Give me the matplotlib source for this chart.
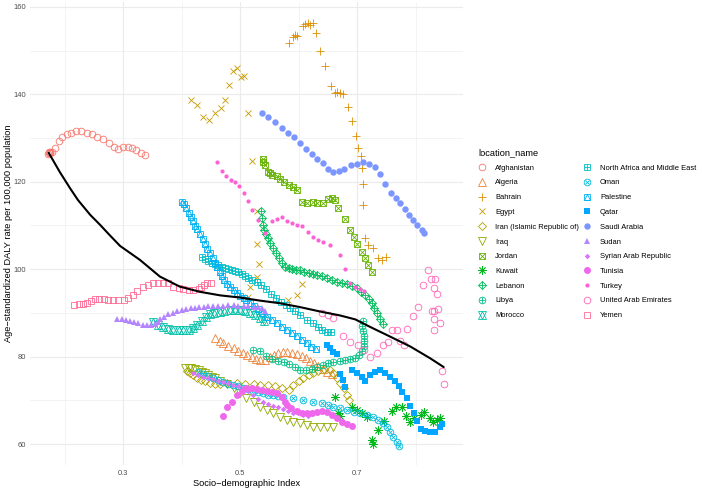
import numpy as np
import matplotlib
matplotlib.use("Agg")
import matplotlib.pyplot as plt
from matplotlib.lines import Line2D
from matplotlib.legend_handler import HandlerTuple

plt.rcParams['font.family'] = ['Liberation Sans', 'DejaVu Sans']

# ---------------- data (SDI, age-standardized DALY rate) ----------------
afg_sdi = [0.172, 0.173, 0.174, 0.175, 0.176, 0.178, 0.184, 0.191, 0.196, 0.204, 0.211, 0.220, 0.228, 0.238, 0.247, 0.256, 0.266, 0.276, 0.284, 0.292, 0.300, 0.309, 0.316, 0.323, 0.330, 0.338]
afg_daly = [126.4, 126.7, 126.5, 126.8, 126.6, 126.7, 127.7, 129.2, 130.3, 130.9, 131.2, 131.5, 131.6, 131.2, 130.9, 130.3, 129.7, 128.8, 128.0, 127.5, 127.9, 127.9, 127.6, 127.3, 126.5, 126.1]

alg_sdi = [0.457, 0.465, 0.471, 0.480, 0.489, 0.497, 0.505, 0.512, 0.520, 0.527, 0.534, 0.543, 0.551, 0.558, 0.565, 0.573, 0.581, 0.588, 0.597, 0.605, 0.613, 0.620, 0.626, 0.634, 0.641, 0.648, 0.657]
alg_daly = [84.2, 83.6, 83.0, 82.4, 81.9, 81.3, 80.9, 80.4, 80.0, 79.5, 79.2, 79.2, 79.8, 80.4, 80.8, 81.0, 81.0, 80.9, 80.6, 80.1, 79.6, 79.1, 78.5, 77.8, 77.1, 76.5, 76.0]

bhr_sdi = [0.584, 0.590, 0.594, 0.598, 0.607, 0.611, 0.616, 0.620, 0.624, 0.630, 0.637, 0.645, 0.655, 0.662, 0.666, 0.671, 0.676, 0.685, 0.691, 0.698, 0.702, 0.706, 0.709, 0.710, 0.710, 0.714, 0.719, 0.727, 0.736, 0.743, 0.750]
bhr_daly = [151.8, 153.1, 153.6, 153.4, 155.5, 156.1, 156.3, 155.9, 156.3, 154.0, 149.8, 146.5, 141.9, 140.3, 140.6, 140.4, 140.1, 137.0, 133.8, 130.5, 127.7, 125.9, 123.2, 119.5, 114.7, 107.1, 105.5, 104.9, 102.6, 102.1, 102.8]

egy_sdi = [0.416, 0.426, 0.437, 0.447, 0.457, 0.468, 0.474, 0.481, 0.488, 0.495, 0.502, 0.507, 0.514, 0.521, 0.529, 0.529, 0.532, 0.529, 0.517, 0.514, 0.582, 0.597, 0.606]
egy_daly = [138.7, 137.6, 134.8, 134.1, 135.7, 136.9, 138.7, 142.2, 145.4, 146.0, 144.0, 144.2, 135.7, 124.8, 113.3, 105.8, 101.2, 98.2, 95.9, 93.6, 93.0, 94.1, 96.6]

irn_sdi = [0.409, 0.415, 0.420, 0.426, 0.433, 0.440, 0.449, 0.457, 0.466, 0.477, 0.494, 0.509, 0.523, 0.534, 0.548, 0.560, 0.571, 0.583, 0.591, 0.600, 0.608, 0.617, 0.625, 0.634, 0.644, 0.653, 0.659, 0.665, 0.671, 0.678, 0.682, 0.687]
irn_daly = [76.7, 76.2, 75.7, 75.1, 74.6, 74.3, 73.9, 73.8, 73.8, 73.9, 73.9, 73.7, 73.7, 73.5, 73.4, 73.3, 72.9, 72.4, 73.5, 74.3, 75.0, 75.8, 76.3, 76.8, 77.1, 76.9, 76.2, 75.0, 73.9, 72.8, 71.2, 70.1]

irq_sdi = [0.406, 0.412, 0.417, 0.423, 0.429, 0.435, 0.440, 0.446, 0.452, 0.457, 0.466, 0.477, 0.489, 0.500, 0.511, 0.523, 0.534, 0.546, 0.557, 0.568, 0.580, 0.591, 0.603, 0.614, 0.625, 0.637, 0.648, 0.659]
irq_daly = [77.5, 77.3, 77.3, 77.2, 76.9, 76.5, 76.2, 75.8, 75.4, 75.0, 74.4, 73.7, 72.8, 71.7, 70.5, 69.5, 68.5, 67.8, 67.0, 66.2, 65.6, 65.1, 64.7, 64.3, 64.0, 63.9, 63.9, 64.0]

jor_sdi = [0.539, 0.540, 0.543, 0.548, 0.551, 0.554, 0.563, 0.568, 0.575, 0.583, 0.590, 0.597, 0.605, 0.615, 0.624, 0.632, 0.641, 0.651, 0.657, 0.662, 0.668, 0.679, 0.688, 0.695, 0.700, 0.708, 0.714, 0.719, 0.725]
jor_daly = [125.1, 124.5, 123.8, 122.3, 122.0, 121.6, 121.2, 120.6, 119.9, 119.3, 118.7, 118.1, 115.4, 115.1, 115.4, 115.1, 115.2, 116.0, 116.2, 115.7, 113.9, 111.4, 109.0, 107.4, 105.8, 104.0, 102.5, 101.0, 99.4]

kwt_sdi = [0.662, 0.668, 0.671, 0.691, 0.700, 0.709, 0.717, 0.725, 0.728, 0.736, 0.746, 0.760, 0.767, 0.776, 0.784, 0.791, 0.797, 0.809, 0.814, 0.824, 0.830, 0.836, 0.842]
kwt_daly = [70.7, 67.0, 66.4, 68.5, 67.8, 67.1, 66.2, 60.9, 60.0, 63.2, 65.3, 67.6, 68.5, 68.5, 66.4, 65.1, 66.0, 66.6, 67.4, 65.9, 65.1, 65.5, 65.9]

lbn_sdi = [0.535, 0.537, 0.539, 0.541, 0.544, 0.548, 0.552, 0.557, 0.562, 0.567, 0.571, 0.577, 0.583, 0.588, 0.596, 0.603, 0.609, 0.617, 0.624, 0.632, 0.640, 0.648, 0.657, 0.666, 0.674, 0.683, 0.691, 0.700, 0.707, 0.714, 0.720, 0.725, 0.729, 0.734, 0.739, 0.744]
lbn_daly = [113.2, 111.6, 110.1, 109.0, 108.1, 107.1, 105.9, 104.9, 103.6, 102.5, 101.5, 100.6, 100.2, 100.0, 99.8, 99.7, 99.4, 99.1, 98.9, 98.7, 98.4, 97.9, 97.5, 97.1, 96.8, 96.5, 96.2, 95.6, 94.8, 94.1, 93.2, 92.3, 91.1, 89.9, 88.6, 87.5]

lby_sdi = [0.522, 0.534, 0.544, 0.555, 0.565, 0.575, 0.584, 0.594, 0.603, 0.613, 0.623, 0.631, 0.641, 0.651, 0.659, 0.670, 0.679, 0.688, 0.697, 0.703, 0.709, 0.711, 0.712, 0.711, 0.710, 0.709, 0.710]
lby_daly = [81.5, 81.3, 80.2, 79.5, 79.1, 78.8, 78.3, 77.6, 76.9, 76.9, 77.1, 77.6, 78.1, 78.5, 78.8, 79.1, 79.2, 79.5, 79.7, 80.4, 81.3, 82.4, 83.6, 84.7, 85.9, 87.0, 88.1]

mar_sdi = [0.352, 0.360, 0.369, 0.377, 0.386, 0.395, 0.403, 0.412, 0.420, 0.427, 0.435, 0.442, 0.449, 0.456, 0.465, 0.473, 0.482, 0.491, 0.500, 0.509, 0.517, 0.526, 0.534, 0.541]
mar_daly = [88.0, 87.2, 86.7, 86.3, 86.1, 86.0, 86.0, 86.1, 86.5, 87.2, 88.2, 89.1, 89.7, 90.0, 90.3, 90.5, 90.7, 90.7, 90.7, 90.5, 90.0, 89.5, 88.8, 88.1]

name_sdi = [0.435, 0.440, 0.446, 0.452, 0.457, 0.463, 0.469, 0.474, 0.480, 0.486, 0.491, 0.497, 0.503, 0.509, 0.514, 0.521, 0.529, 0.536, 0.544, 0.553, 0.562, 0.570, 0.579, 0.585, 0.594, 0.603, 0.614, 0.625, 0.634, 0.640, 0.648, 0.656]
name_daly = [102.7, 102.3, 101.9, 101.5, 101.2, 100.9, 100.6, 100.3, 100.0, 99.8, 99.6, 99.3, 98.9, 98.4, 98.0, 97.6, 97.1, 96.4, 95.5, 94.3, 93.4, 92.5, 91.8, 91.1, 90.4, 89.5, 88.4, 87.6, 86.8, 86.1, 85.7, 85.6]

omn_sdi = [0.428, 0.437, 0.445, 0.454, 0.462, 0.471, 0.479, 0.488, 0.497, 0.505, 0.514, 0.522, 0.531, 0.539, 0.548, 0.556, 0.565, 0.574, 0.591, 0.608, 0.625, 0.640, 0.651, 0.659, 0.671, 0.682, 0.694, 0.705, 0.717, 0.728, 0.736, 0.745, 0.751, 0.756, 0.762, 0.768, 0.772]
omn_daly = [76.5, 76.0, 75.6, 75.1, 74.6, 74.2, 73.8, 73.5, 73.2, 72.8, 72.5, 72.1, 71.8, 71.6, 71.3, 71.1, 71.0, 70.8, 70.5, 70.1, 69.7, 69.3, 68.9, 68.5, 68.2, 67.8, 67.4, 67.0, 66.6, 66.1, 65.5, 64.7, 63.9, 62.7, 61.6, 60.5, 59.5]

pse_sdi = [0.400, 0.404, 0.408, 0.412, 0.416, 0.419, 0.423, 0.427, 0.432, 0.436, 0.440, 0.444, 0.449, 0.453, 0.457, 0.460, 0.465, 0.469, 0.473, 0.477, 0.483, 0.489, 0.494, 0.500, 0.506, 0.511, 0.517, 0.524, 0.531, 0.538, 0.546, 0.554, 0.563, 0.571, 0.580, 0.588, 0.597, 0.605, 0.614, 0.622, 0.630]
pse_daly = [115.4, 114.9, 113.9, 112.9, 111.9, 110.9, 109.9, 109.1, 108.0, 106.8, 105.8, 104.6, 103.6, 102.5, 101.5, 100.4, 99.4, 98.4, 97.4, 96.5, 95.8, 95.2, 94.6, 93.9, 93.3, 92.9, 92.3, 91.6, 90.9, 90.0, 89.1, 88.4, 87.6, 86.8, 86.1, 85.3, 84.6, 83.8, 83.0, 82.3, 81.7]

qat_sdi = [0.648, 0.654, 0.659, 0.665, 0.671, 0.676, 0.680, 0.691, 0.699, 0.708, 0.714, 0.722, 0.731, 0.739, 0.748, 0.756, 0.765, 0.771, 0.777, 0.785, 0.791, 0.797, 0.803, 0.809, 0.816, 0.825, 0.833, 0.841, 0.845]
qat_daly = [82.7, 82.0, 81.1, 80.5, 76.0, 74.6, 73.0, 76.9, 76.2, 75.4, 74.5, 75.8, 76.5, 76.9, 76.3, 75.4, 74.3, 73.2, 71.9, 70.5, 68.8, 67.0, 65.3, 63.5, 63.0, 62.8, 62.8, 63.9, 64.6]

sau_sdi = [0.537, 0.548, 0.560, 0.571, 0.582, 0.592, 0.603, 0.613, 0.623, 0.631, 0.641, 0.650, 0.658, 0.669, 0.678, 0.689, 0.699, 0.710, 0.721, 0.730, 0.739, 0.748, 0.758, 0.767, 0.774, 0.782, 0.789, 0.796, 0.803, 0.811, 0.815]
sau_daly = [135.7, 134.8, 133.6, 132.2, 131.1, 130.2, 128.8, 127.5, 126.3, 125.3, 124.2, 122.9, 122.3, 122.4, 122.9, 123.8, 124.0, 124.4, 124.1, 123.3, 121.8, 119.5, 117.5, 116.2, 115.1, 113.7, 112.4, 111.3, 110.1, 109.0, 108.2]

sdn_sdi = [0.290, 0.298, 0.305, 0.312, 0.319, 0.326, 0.334, 0.341, 0.347, 0.354, 0.359, 0.364, 0.370, 0.377, 0.385, 0.393, 0.400, 0.408, 0.416, 0.423, 0.430, 0.438, 0.446, 0.454, 0.463, 0.471, 0.480, 0.489, 0.497, 0.506, 0.514, 0.523, 0.531, 0.538, 0.543]
sdn_daly = [88.5, 88.5, 88.4, 88.2, 87.9, 87.6, 87.3, 87.2, 87.2, 87.4, 88.0, 88.5, 89.1, 89.7, 90.0, 90.4, 90.7, 90.9, 91.1, 91.2, 91.3, 91.4, 91.6, 91.6, 91.6, 91.6, 91.7, 91.7, 91.6, 91.6, 91.5, 91.4, 91.4, 91.1, 90.4]

syr_sdi = [0.420, 0.428, 0.437, 0.445, 0.454, 0.462, 0.471, 0.479, 0.488, 0.497, 0.505, 0.514, 0.522, 0.531, 0.539, 0.548, 0.556, 0.565, 0.574, 0.582, 0.591, 0.599, 0.608, 0.616]
syr_daly = [76.2, 75.8, 75.4, 75.1, 74.8, 74.4, 74.2, 74.0, 73.6, 73.3, 72.8, 72.1, 71.2, 70.4, 69.7, 69.2, 68.7, 68.4, 68.0, 67.6, 67.2, 67.0, 66.7, 66.5]

tun_sdi = [0.470, 0.478, 0.486, 0.494, 0.503, 0.511, 0.520, 0.529, 0.537, 0.546, 0.554, 0.563, 0.571, 0.577, 0.581, 0.587, 0.597, 0.605, 0.614, 0.623, 0.631, 0.640, 0.648, 0.657, 0.665, 0.674, 0.682, 0.691]
tun_daly = [66.4, 68.4, 69.7, 71.2, 72.2, 72.7, 72.7, 72.5, 72.4, 72.2, 72.0, 71.6, 70.8, 69.7, 68.9, 68.2, 67.6, 67.2, 67.0, 67.2, 67.4, 67.6, 67.3, 66.6, 65.9, 65.1, 64.6, 64.1]

tur_sdi = [0.460, 0.469, 0.476, 0.484, 0.491, 0.498, 0.506, 0.513, 0.521, 0.531, 0.543, 0.554, 0.563, 0.571, 0.580, 0.589, 0.598, 0.606, 0.616, 0.624, 0.634, 0.642, 0.654, 0.671, 0.680, 0.688, 0.697, 0.705, 0.711]
tur_daly = [124.4, 122.5, 121.2, 120.3, 119.9, 119.0, 117.4, 115.6, 113.5, 111.3, 108.3, 110.9, 111.5, 112.0, 111.1, 110.5, 110.1, 109.9, 108.6, 107.4, 106.7, 106.1, 105.5, 103.2, 100.0, 96.8, 96.0, 95.4, 95.1]

are_sdi = [0.640, 0.651, 0.659, 0.676, 0.688, 0.701, 0.712, 0.722, 0.734, 0.744, 0.752, 0.759, 0.768, 0.774, 0.781, 0.786, 0.795, 0.804, 0.813, 0.822, 0.827, 0.834, 0.831, 0.836, 0.828, 0.832, 0.839, 0.832, 0.842, 0.832, 0.845, 0.848]
are_daly = [89.9, 89.5, 88.8, 84.7, 83.4, 82.7, 81.5, 79.9, 80.8, 82.7, 83.3, 86.1, 86.0, 83.6, 82.7, 86.3, 89.3, 91.4, 96.4, 99.8, 97.7, 97.7, 95.6, 94.2, 90.4, 90.5, 90.8, 88.5, 87.6, 86.0, 76.6, 73.7]

yem_sdi = [0.216, 0.224, 0.231, 0.238, 0.245, 0.252, 0.259, 0.268, 0.275, 0.283, 0.292, 0.302, 0.309, 0.317, 0.324, 0.334, 0.342, 0.351, 0.359, 0.369, 0.377, 0.386, 0.395, 0.403, 0.412, 0.420, 0.429, 0.434, 0.438, 0.444, 0.450]
yem_daly = [91.8, 92.0, 92.0, 92.3, 92.8, 93.1, 93.2, 93.1, 93.0, 93.0, 93.0, 93.0, 93.5, 94.1, 95.1, 95.9, 96.4, 96.8, 96.9, 96.9, 96.8, 96.0, 95.6, 95.4, 95.2, 95.2, 95.4, 95.9, 96.4, 96.9, 96.8]

# smoothed overall trend (black curve)
fit_sdi = [0.173, 0.192, 0.209, 0.223, 0.244, 0.261, 0.277, 0.295, 0.329, 0.363, 0.397, 0.432, 0.466, 0.500, 0.534, 0.568, 0.603, 0.637, 0.671, 0.697, 0.722, 0.756, 0.791, 0.825, 0.848]
fit_daly = [126.6, 122.2, 118.6, 115.8, 112.4, 110.1, 107.8, 105.3, 102.1, 98.3, 96.0, 94.8, 94.0, 93.5, 92.8, 92.2, 91.3, 90.3, 89.4, 88.5, 86.8, 84.6, 82.3, 79.6, 77.6]

locations = ["Afghanistan", "Algeria", "Bahrain", "Egypt", "Iran (Islamic Republic of)",
             "Iraq", "Jordan", "Kuwait", "Lebanon", "Libya", "Morocco",
             "North Africa and Middle East", "Oman", "Palestine", "Qatar",
             "Saudi Arabia", "Sudan", "Syrian Arab Republic", "Tunisia", "Turkey",
             "United Arab Emirates", "Yemen"]
sdi_series = [afg_sdi, alg_sdi, bhr_sdi, egy_sdi, irn_sdi, irq_sdi, jor_sdi, kwt_sdi,
              lbn_sdi, lby_sdi, mar_sdi, name_sdi, omn_sdi, pse_sdi, qat_sdi, sau_sdi,
              sdn_sdi, syr_sdi, tun_sdi, tur_sdi, are_sdi, yem_sdi]
daly_series = [afg_daly, alg_daly, bhr_daly, egy_daly, irn_daly, irq_daly, jor_daly, kwt_daly,
               lbn_daly, lby_daly, mar_daly, name_daly, omn_daly, pse_daly, qat_daly, sau_daly,
               sdn_daly, syr_daly, tun_daly, tur_daly, are_daly, yem_daly]


# ---------------- styling ----------------
def hcl_hex(h, c=100.0, l=65.0):
    hr = np.deg2rad(h)
    u, v = c * np.cos(hr), c * np.sin(hr)
    Xn, Yn, Zn = 95.047, 100.0, 108.883
    Y = Yn * ((l + 16) / 116) ** 3
    den = Xn + 15 * Yn + 3 * Zn
    un, vn = 4 * Xn / den, 9 * Yn / den
    up, vp = u / (13 * l) + un, v / (13 * l) + vn
    X = 9.0 * Y * up / (4 * vp)
    Z = -X / 3 - 5 * Y + 3 * Y / vp
    M = np.array([[3.240479, -1.537150, -0.498535],
                  [-0.969256, 1.875992, 0.041556],
                  [0.055648, -0.204043, 1.057311]])
    rgb = M @ (np.array([X, Y, Z]) / 100.0)
    out = []
    for ch in rgb:
        ch = 12.92 * ch if ch <= 0.0031308 else 1.055 * ch ** (1 / 2.4) - 0.055
        out.append(min(max(ch, 0), 1))
    return tuple(out)


hues = np.linspace(15, 375, len(locations) + 1)[:-1]
colors = [hcl_hex(h) for h in hues]

TRI = [(-0.5, -0.5), (0.0, 0.5), (0.5, -0.5), (-0.5, -0.5)]
shape_layers = [
    [('o', 4.8, False)],
    [('^', 5.2, False)],
    [('+', 6.0, False)],
    [('x', 4.6, False)],
    [('D', 3.6, False)],
    [('v', 5.2, False)],
    [('s', 4.3, False), ('x', 4.3, False)],
    [((8, 2, 0), 6.0, False)],
    [('D', 3.6, False), ('+', 5.1, False)],
    [('o', 4.8, False), ('+', 4.8, False)],
    [('^', 5.2, False), ('v', 5.2, False)],
    [('s', 4.3, False), ('+', 4.3, False)],
    [('o', 4.8, False), ('x', 3.4, False)],
    [('s', 4.3, False), (TRI, 4.3, False)],
    [('s', 4.3, True)],
    [('o', 4.6, True)],
    [('^', 5.0, True)],
    [('D', 2.8, True)],
    [('o', 5.0, True)],
    [('o', 3.0, True)],
    [('o', 4.8, False)],
    [('s', 4.3, False)],
]

MEW = 0.6

fig = plt.figure(figsize=(7.02, 4.94), dpi=100)
ax = fig.add_axes([30 / 702, 29 / 494, 433 / 702, 463 / 494])

handles = []
for name, xs, ys, col, layers in zip(locations, sdi_series, daly_series, colors, shape_layers):
    proxies = []
    for mk, ms, filled in layers:
        kw = dict(linestyle='none', marker=mk, markersize=ms, markeredgecolor=col,
                  markerfacecolor=col if filled else 'none',
                  markeredgewidth=0.0 if filled else MEW)
        ax.plot(xs, ys, **kw)
        proxies.append(Line2D([], [], **kw))
    handles.append(tuple(proxies) if len(proxies) > 1 else proxies[0])

ax.plot(fit_sdi, fit_daly, color='black', lw=1.5, solid_capstyle='round', zorder=5)

ax.set_xlim(0.141, 0.881)
ax.set_ylim(55.2, 161.1)
ax.set_xticks([0.3, 0.5, 0.7])
ax.set_xticklabels(["0.3", "0.5", "0.7"])
ax.set_xticks([0.2, 0.4, 0.6, 0.8], minor=True)
ax.set_yticks([60, 80, 100, 120, 140, 160])
ax.set_yticks([70, 90, 110, 130, 150], minor=True)
ax.grid(True, which='major', color='#EBEBEB', lw=0.8)
ax.grid(True, which='minor', color='#EBEBEB', lw=0.4)
ax.set_axisbelow(True)
for s in ax.spines.values():
    s.set_visible(False)
ax.tick_params(which='both', length=0, labelsize=5.4, labelcolor='#4D4D4D')
ax.tick_params(axis='x', pad=3.5)
ax.tick_params(axis='y', pad=3)
ax.set_xlabel("Socio\u2212demographic Index", fontsize=6.7)
ax.set_ylabel("Age\u2212standardized DALY rate per 100,000 population", fontsize=6.7)
ax.xaxis.set_label_coords(0.5, -0.030)
ax.yaxis.set_label_coords(-0.040, 0.5)

leg = fig.legend(handles, locations, ncol=2, loc='upper left',
                 bbox_to_anchor=(478 / 702, 1 - 148 / 494), frameon=False,
                 fontsize=5.4, title='location_name', title_fontsize=6.7,
                 alignment='left', handler_map={tuple: HandlerTuple(ndivide=1, pad=0)},
                 handlelength=1.2, handletextpad=1.1, columnspacing=0.47,
                 labelspacing=1.0, borderpad=0, borderaxespad=0)

fig.savefig("out.png", dpi=100, facecolor='white')
